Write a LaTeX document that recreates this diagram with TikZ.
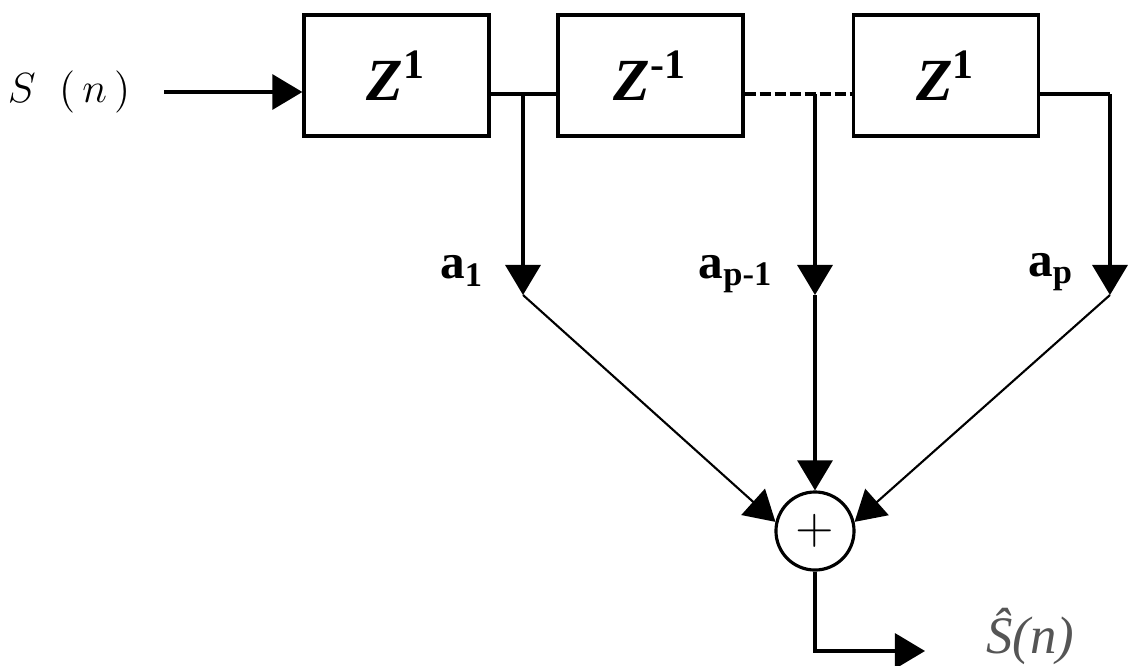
\documentclass[tikz,border=0pt]{standalone}
\usepackage{fontspec}
\setmainfont{Liberation Serif}
\usepackage{tikz}
\usetikzlibrary{positioning,arrows.meta,calc}
\definecolor{cgrey}{HTML}{555555}
\tikzset{
 dly/.style={rectangle, draw=black, line width=0.9pt, minimum width=1.85cm,
 minimum height=1.21cm, inner sep=0pt, font=\fontsize{17}{20}\selectfont\bfseries},
 sumn/.style={circle, draw=black, line width=0.9pt, minimum size=0.78cm,
 inner sep=0pt, font=\fontsize{14}{16}\selectfont},
 coef/.style={inner sep=1pt, font=\fontsize{14}{16}\selectfont\bfseries},
 sig/.style={inner sep=1pt, font=\fontsize{12}{14}\selectfont},
 fl/.style={-{Triangle[length=3mm, width=3.5mm]}, draw=black, line width=0.9pt},
 wl/.style={draw=black, line width=0.9pt},
 dl/.style={-{Triangle[length=3mm, width=3.5mm]}, draw=black, line width=0.6pt},
}
\newcommand{\zdel}[1]{\raisebox{-2mm}{\textit{Z}\textsuperscript{#1}}}

\begin{document}
\begin{tikzpicture}[x=0.01cm, y=-0.01cm]
 \useasboundingbox (0,0) rectangle (1135,666);
 \node[sig] (in) at (69,92) {$S\;\;(\,n\,)$};
 \node[dly] (b1) at (396.5,75.5) {\zdel{1}};
 \node[dly] (b2) at (650.5,75.5) {\zdel{-1}};
 \node[dly] (b3) at (946,75.5) {\zdel{1}};
 \node[sumn] (sum) at (815,531) {$+$};

 \coordinate (t1) at (523,94);
 \coordinate (t2) at (815,94);
 \coordinate (t3) at (1110,94);
 \coordinate (g1) at (523,295);
 \coordinate (g2) at (815,295);
 \coordinate (g3) at (1110,295);
 \coordinate (out) at (925,651);

 \node[coef] (c1) at (462,271) {a\textsubscript{1}};
 \node[coef] (c2) at (736,274) {a\textsubscript{p-1}};
 \node[coef] (c3) at (1051,272) {a\textsubscript{p}};
 \node[sig, text=cgrey, font=\fontsize{15}{17}\selectfont\itshape] (sh) at (1030,636) {Ŝ(n)};

 \draw[fl, shorten <=3mm] (in) -- (b1.west |- in);
 \draw[wl] (b1.east |- t1) -- (b2.west |- t1);
 \draw[wl, dash pattern=on 1.1mm off 0.4mm] (b2.east |- t2) -- (b3.west |- t2);
 \draw[wl] (b3.east |- t3) -- (t3);
 \draw[fl] (t1) -- (g1);
 \draw[fl] (t2) -- (g2);
 \draw[fl] (t3) -- (g3);
 \draw[dl] (g1) -- (sum.167);
 \draw[fl] (g2) -- (sum.north);
 \draw[dl] (g3) -- (sum.13);
 \draw[fl] (sum.south) |- (out);
\end{tikzpicture}
\end{document}
